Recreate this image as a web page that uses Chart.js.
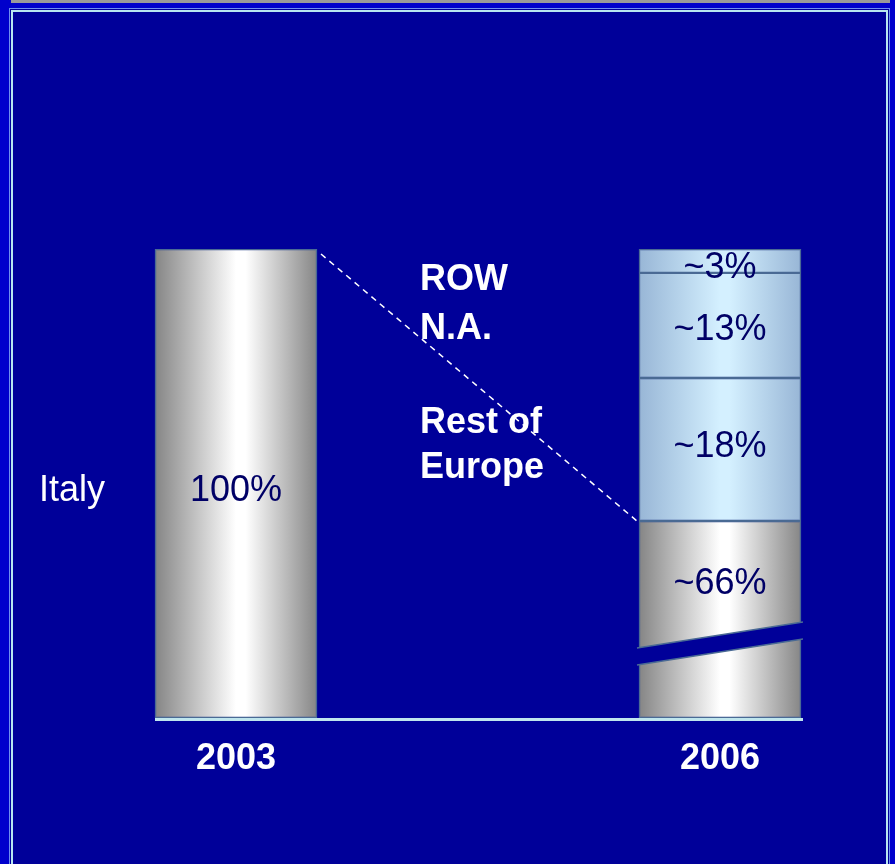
<!DOCTYPE html>
<html>
<head>
<meta charset="utf-8">
<script src="https://cdn.jsdelivr.net/npm/chart.js@4/dist/chart.umd.min.js"></script>
<style>
  html, body { margin: 0; padding: 0; background: #0000cc; }
  #wrap { width: 895px; height: 864px; position: relative; }
</style>
</head>
<body>
<div id="wrap"><canvas id="chart" width="895" height="864"></canvas></div>
<script>
// years on the x axis (bar positions 0 and 1)
const years = ['2003', '2006'];
const yearPos = [0, 1];

// drawn segment heights (2006 Italy segment is shown with a broken axis)
const italyValues = [100, 42];
const restEuropeValues = [null, 30.5];
const naValues = [null, 22.4];
const rowValues = [null, 5.1];

// text written inside the segments
const italyLabels = ['100%', '~66%'];
const restEuropeLabels = [null, '~18%'];
const naLabels = [null, '~13%'];
const rowLabels = [null, '~3%'];

// region names written between the bars
const regionNames = ['ROW', 'N.A.', 'Rest of', 'Europe'];

const NAVY = '#000099';
const EDGE = '#4a6a94';
const BAR_W = 162;

function toPoints(vals) {
  return vals.map((v, i) => ({ x: yearPos[i], y: v }));
}

function barGradient(ctx, stops) {
  const chart = ctx.chart;
  if (!chart.chartArea || ctx.dataIndex == null) return stops[0][1];
  const cx = chart.scales.x.getPixelForValue(yearPos[ctx.dataIndex]);
  const g = chart.ctx.createLinearGradient(cx - BAR_W / 2, 0, cx + BAR_W / 2, 0);
  stops.forEach(s => g.addColorStop(s[0], s[1]));
  return g;
}

const greyStops = [[0, '#858585'], [0.5, '#ffffff'], [0.56, '#ffffff'], [1, '#868686']];
const blueStops = [[0, '#98b6d6'], [0.5, '#d4f0ff'], [0.56, '#d4f0ff'], [1, '#98b6d6']];

function ds(label, vals, stops) {
  return {
    label: label,
    data: toPoints(vals),
    backgroundColor: c => barGradient(c, stops),
    borderColor: EDGE,
    borderWidth: 1.5,
    borderSkipped: false,
    barThickness: BAR_W
  };
}

// background, frame, break, dashed line and all texts
const decor = {
  id: 'decor',
  beforeDraw(chart) {
    const c = chart.ctx;
    c.save();
    c.fillStyle = '#0000cc';
    c.fillRect(0, 0, 895, 864);
    c.fillStyle = '#9a9a9a';
    c.fillRect(11, 0, 879, 3);
    c.fillStyle = NAVY;
    c.fillRect(10, 8, 879, 870);
    c.strokeStyle = '#6f8ff0';
    c.lineWidth = 1;
    c.strokeRect(9.5, 8.5, 880, 880);
    c.strokeStyle = '#b8e6f0';
    c.lineWidth = 2;
    c.strokeRect(12, 11, 875, 880);
    c.restore();
  },
  afterDatasetsDraw(chart) {
    const c = chart.ctx;
    const xs = chart.scales.x, ys = chart.scales.y;
    const x0 = xs.getPixelForValue(yearPos[0]);
    const x1 = xs.getPixelForValue(yearPos[1]);
    const base = ys.getPixelForValue(0);
    const italyTop2006 = ys.getPixelForValue(italyValues[1]);
    c.save();

    // axis break on the 2006 Italy segment
    const bl = x1 - BAR_W / 2 - 2, br = x1 + BAR_W / 2 + 2;
    const upL = base - 70, upR = base - 96;
    const band = 17;
    c.fillStyle = NAVY;
    c.beginPath();
    c.moveTo(bl, upL); c.lineTo(br, upR); c.lineTo(br, upR + band); c.lineTo(bl, upL + band);
    c.closePath(); c.fill();
    c.strokeStyle = EDGE; c.lineWidth = 1.5;
    c.beginPath(); c.moveTo(bl, upL); c.lineTo(br, upR); c.stroke();
    c.beginPath(); c.moveTo(bl, upL + band); c.lineTo(br, upR + band); c.stroke();

    // baseline
    c.fillStyle = '#bfe6ee';
    c.fillRect(x0 - BAR_W / 2, base, x1 + BAR_W / 2 + 2 - (x0 - BAR_W / 2), 3);

    // dashed connector
    c.strokeStyle = '#ffffff'; c.lineWidth = 1.5;
    c.setLineDash([6, 5]);
    c.beginPath();
    c.moveTo(x0 + BAR_W / 2 + 4, ys.getPixelForValue(italyValues[0]) + 5);
    c.lineTo(x1 - BAR_W / 2 - 2, italyTop2006);
    c.stroke();
    c.setLineDash([]);

    // segment texts
    c.font = '36px "Liberation Sans", Arial, sans-serif';
    c.fillStyle = '#000066';
    c.textAlign = 'center';
    c.textBaseline = 'middle';
    const labelSets = [italyLabels, restEuropeLabels, naLabels, rowLabels];
    const nudge = [[8, 0], [0, -2], [0, 5], [0, 7]];
    labelSets.forEach((labels, di) => {
      const meta = chart.getDatasetMeta(di);
      labels.forEach((t, i) => {
        if (!t) return;
        const el = meta.data[i];
        let y = (el.y + el.base) / 2 + nudge[di][i];
        if (di === 0 && i === 1) y = (el.y + (base - 83)) / 2 + 6;
        c.fillText(t, el.x, y);
      });
    });

    // category texts
    c.fillStyle = '#ffffff';
    c.textAlign = 'left';
    c.fillText('Italy', 39, ys.getPixelForValue(50) + 8);

    c.font = 'bold 36px "Liberation Sans", Arial, sans-serif';
    c.textBaseline = 'alphabetic';
    const nx = 420;
    const ny = [290, 339, 433, 478];
    regionNames.forEach((t, i) => c.fillText(t, nx, ny[i]));

    c.textAlign = 'center';
    years.forEach((y, i) => c.fillText(y, xs.getPixelForValue(yearPos[i]), base + 51));
    c.restore();
  }
};

new Chart(document.getElementById('chart'), {
  type: 'bar',
  data: {
    datasets: [
      ds('Italy', italyValues, greyStops),
      ds('Rest of Europe', restEuropeValues, blueStops),
      ds('N.A.', naValues, blueStops),
      ds('ROW', rowValues, blueStops)
    ]
  },
  options: {
    responsive: false,
    animation: false,
    events: [],
    layout: { padding: { top: 249, bottom: 146, left: 0, right: 0 } },
    plugins: { legend: { display: false }, tooltip: { enabled: false } },
    scales: {
      x: { type: 'linear', display: false, stacked: true, offset: false, min: -0.4876, max: 1.3616 },
      y: { display: false, stacked: true, min: 0, max: 100 }
    }
  },
  plugins: [decor]
});
</script>
</body>
</html>
